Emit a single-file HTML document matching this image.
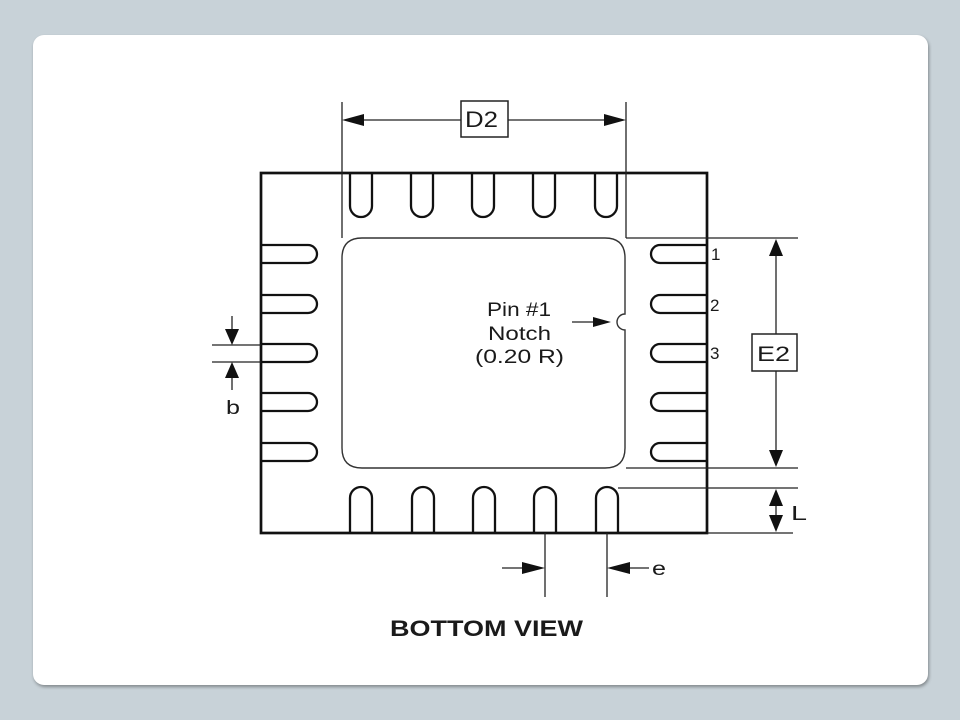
<!DOCTYPE html>
<html>
<head>
<meta charset="utf-8">
<style>
html,body{margin:0;padding:0;}
body{width:960px;height:720px;background:#c8d2d8;position:relative;overflow:hidden;font-family:"Liberation Sans",Arial,sans-serif;}
.card{position:absolute;left:33px;top:35px;width:895px;height:650px;background:#fff;border-radius:11px;box-shadow:1px 2px 3px rgba(0,0,0,0.35);}
svg{position:absolute;left:0;top:0;}
</style>
</head>
<body>
<div class="card"></div>
<svg width="960" height="720" viewBox="0 0 960 720" xmlns="http://www.w3.org/2000/svg" font-family="Liberation Sans, Arial, sans-serif">
  <!-- inner pad -->
  <path d="M362,238 H605 Q625,238 625,258 V314 A8,8 0 0 0 625,330 V448 Q625,468 605,468 H362 Q342,468 342,448 V258 Q342,238 362,238 Z" fill="none" stroke="#333" stroke-width="1.4"/>

  <!-- package outline -->
  <rect x="261" y="173" width="446" height="360" fill="none" stroke="#111" stroke-width="2.7"/>

  <g fill="none" stroke="#111" stroke-width="2.3">
    <!-- top pins -->
    <path d="M350,173 V206 A11,11 0 0 0 372,206 V173"/>
    <path d="M411,173 V206 A11,11 0 0 0 433,206 V173"/>
    <path d="M472,173 V206 A11,11 0 0 0 494,206 V173"/>
    <path d="M533,173 V206 A11,11 0 0 0 555,206 V173"/>
    <path d="M595,173 V206 A11,11 0 0 0 617,206 V173"/>
    <!-- bottom pins -->
    <path d="M350,533 V498 A11,11 0 0 1 372,498 V533"/>
    <path d="M412,533 V498 A11,11 0 0 1 434,498 V533"/>
    <path d="M473,533 V498 A11,11 0 0 1 495,498 V533"/>
    <path d="M534,533 V498 A11,11 0 0 1 556,498 V533"/>
    <path d="M596,533 V498 A11,11 0 0 1 618,498 V533"/>
    <!-- left pins -->
    <path d="M261,245 H308 A9,9 0 0 1 308,263 H261"/>
    <path d="M261,295 H308 A9,9 0 0 1 308,313 H261"/>
    <path d="M261,344 H308 A9,9 0 0 1 308,362 H261"/>
    <path d="M261,393 H308 A9,9 0 0 1 308,411 H261"/>
    <path d="M261,443 H308 A9,9 0 0 1 308,461 H261"/>
    <!-- right pins -->
    <path d="M707,245 H660 A9,9 0 0 0 660,263 H707"/>
    <path d="M707,295 H660 A9,9 0 0 0 660,313 H707"/>
    <path d="M707,344 H660 A9,9 0 0 0 660,362 H707"/>
    <path d="M707,393 H660 A9,9 0 0 0 660,411 H707"/>
    <path d="M707,443 H660 A9,9 0 0 0 660,461 H707"/>
  </g>

  <!-- dimension lines -->
  <g stroke="#222" stroke-width="1.3" fill="none">
    <line x1="342" y1="102" x2="342" y2="238"/>
    <line x1="626" y1="102" x2="626" y2="238"/>
    <line x1="626" y1="238" x2="798" y2="238"/>
    <line x1="360" y1="120" x2="461" y2="120"/>
    <line x1="508" y1="120" x2="608" y2="120"/>
    <line x1="626" y1="468" x2="798" y2="468"/>
    <line x1="776" y1="252" x2="776" y2="334"/>
    <line x1="776" y1="371" x2="776" y2="452"/>
    <line x1="618" y1="488" x2="798" y2="488"/>
    <line x1="707" y1="533" x2="793" y2="533"/>
    <line x1="776" y1="500" x2="776" y2="520"/>
    <line x1="212" y1="345" x2="261" y2="345"/>
    <line x1="212" y1="362" x2="261" y2="362"/>
    <line x1="232" y1="316" x2="232" y2="332"/>
    <line x1="232" y1="374" x2="232" y2="390"/>
    <line x1="545" y1="533" x2="545" y2="597"/>
    <line x1="607" y1="533" x2="607" y2="597"/>
    <line x1="502" y1="568" x2="530" y2="568"/>
    <line x1="622" y1="568" x2="649" y2="568"/>
    <line x1="572" y1="322" x2="598" y2="322"/>
  </g>

  <!-- arrowheads -->
  <g fill="#111">
    <polygon points="342,120 364,114 364,126"/>
    <polygon points="626,120 604,114 604,126"/>
    <polygon points="776,239 769,256 783,256"/>
    <polygon points="776,467 769,450 783,450"/>
    <polygon points="776,489 769,506 783,506"/>
    <polygon points="776,532 769,515 783,515"/>
    <polygon points="232,345 225,329 239,329"/>
    <polygon points="232,362 225,378 239,378"/>
    <polygon points="545,568 522,562 522,574"/>
    <polygon points="607,568 630,562 630,574"/>
    <polygon points="611,322 593,317 593,327"/>
  </g>

  <!-- label boxes -->
  <rect x="461" y="101" width="47" height="36" fill="#fff" stroke="#222" stroke-width="1.5"/>
  <rect x="752" y="334" width="45" height="37" fill="#fff" stroke="#222" stroke-width="1.5"/>

  <!-- text -->
  <g fill="#1a1a1a">
    <text x="465" y="127" font-size="22" textLength="33" lengthAdjust="spacingAndGlyphs">D2</text>
    <text x="757" y="361" font-size="21" textLength="33" lengthAdjust="spacingAndGlyphs">E2</text>
    <text x="711" y="260" font-size="17">1</text>
    <text x="710" y="311" font-size="17">2</text>
    <text x="710" y="359" font-size="17">3</text>
    <text x="791" y="520" font-size="20" textLength="16" lengthAdjust="spacingAndGlyphs">L</text>
    <text x="226" y="414" font-size="19" textLength="14" lengthAdjust="spacingAndGlyphs">b</text>
    <text x="652" y="575" font-size="19" textLength="14" lengthAdjust="spacingAndGlyphs">e</text>
    <text x="487" y="316" font-size="19" textLength="64" lengthAdjust="spacingAndGlyphs">Pin #1</text>
    <text x="488" y="340" font-size="19" textLength="63" lengthAdjust="spacingAndGlyphs">Notch</text>
    <text x="475" y="363" font-size="19" textLength="89" lengthAdjust="spacingAndGlyphs">(0.20 R)</text>
    <text x="390" y="636" font-size="22" font-weight="bold" textLength="193" lengthAdjust="spacingAndGlyphs">BOTTOM VIEW</text>
  </g>
</svg>
</body>
</html>
